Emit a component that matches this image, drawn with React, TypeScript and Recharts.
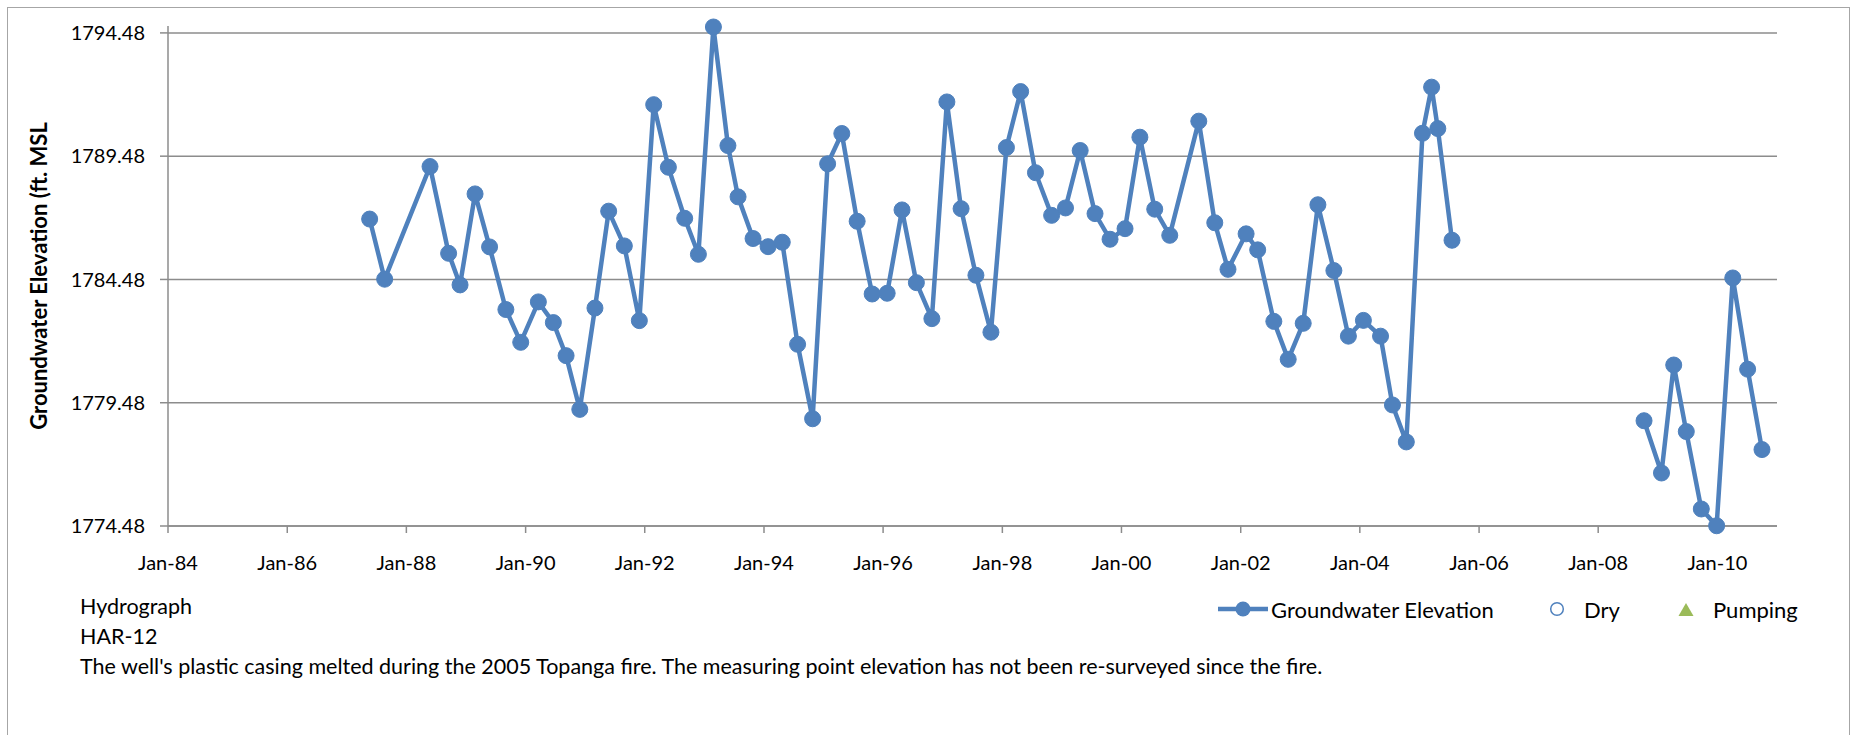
import React from 'react';
import { LineChart, Line, XAxis, YAxis, CartesianGrid, Legend } from 'recharts';

// sample dates and measured elevations (ft MSL); null marks the gap 2005-2008
const sampleDates = [
  '1987-05-21', '1987-08-21', '1988-05-25', '1988-09-16', '1988-11-25', '1989-02-25', '1989-05-25',
  '1989-09-02', '1989-12-02', '1990-03-20', '1990-06-20', '1990-09-06', '1990-11-29', '1991-03-02',
  '1991-05-25', '1991-08-29', '1991-11-29', '1992-02-25', '1992-05-25', '1992-09-02', '1992-11-25',
  '1993-02-25', '1993-05-25', '1993-07-26', '1993-10-26', '1994-01-26', '1994-04-23', '1994-07-26',
  '1994-10-26', '1995-01-26', '1995-04-23', '1995-07-26', '1995-10-26', '1996-01-26', '1996-04-26',
  '1996-07-23', '1996-10-26', '1997-01-26', '1997-04-23', '1997-07-23', '1997-10-23', '1998-01-26',
  '1998-04-23', '1998-07-23', '1998-10-30', '1999-01-23', '1999-04-23', '1999-07-23', '1999-10-23',
  '2000-01-23', '2000-04-23', '2000-07-23', '2000-10-23', '2001-04-19', '2001-07-26', '2001-10-15',
  '2002-02-03', '2002-04-15', '2002-07-23', '2002-10-19', '2003-01-19', '2003-04-19', '2003-07-26',
  '2003-10-23', '2004-01-23', '2004-05-07', '2004-07-19', '2004-10-12', '2005-01-19', '2005-03-16',
  '2005-04-23', '2005-07-19', '2007-01-01', '2008-10-08', '2009-01-23', '2009-04-08', '2009-06-24',
  '2009-09-24', '2009-12-27', '2010-04-05', '2010-07-05', '2010-10-01',
];

const groundwaterElevation: (number | null)[] = [
  1786.93, 1784.49, 1789.06, 1785.54, 1784.26, 1787.95, 1785.8,
  1783.26, 1781.93, 1783.57, 1782.73, 1781.39, 1779.21, 1783.32,
  1787.25, 1785.84, 1782.81, 1791.57, 1789.03, 1786.96, 1785.5,
  1794.72, 1789.91, 1787.83, 1786.14, 1785.81, 1785.99, 1781.85,
  1778.83, 1789.17, 1790.4, 1786.84, 1783.89, 1783.92, 1787.3,
  1784.35, 1782.89, 1791.68, 1787.35, 1784.65, 1782.34, 1789.83,
  1792.1, 1788.81, 1787.08, 1787.38, 1789.71, 1787.15, 1786.11,
  1786.54, 1790.25, 1787.33, 1786.27, 1790.9, 1786.78, 1784.89,
  1786.33, 1785.68, 1782.78, 1781.24, 1782.7, 1787.51, 1784.84,
  1782.18, 1782.82, 1782.18, 1779.39, 1777.89, 1790.41, 1792.28,
  1790.6, 1786.07, null, 1778.75, 1776.63, 1781.01, 1778.31,
  1775.17, 1774.49, 1784.54, 1780.84, 1777.58,
];

// no dry or pumping readings in this record
const dryReadings: (number | null)[] = [];
const pumpingReadings: (number | null)[] = [];

const yearTicks = [1984, 1986, 1988, 1990, 1992, 1994, 1996, 1998, 2000, 2002, 2004, 2006, 2008, 2010];
const elevationTicks = [1774.48, 1779.48, 1784.48, 1789.48, 1794.48];

const noteLines = [
  'Hydrograph',
  'HAR-12',
  "The well's plastic casing melted during the 2005 Topanga fire. The measuring point elevation has not been re-surveyed since the fire.",
];

const BLUE = '#4f81bd';
const GREEN = '#9bbb59';
const GRID = '#8c8c8c';
const FONT = "Lato, 'Open Sans', sans-serif";

const toTime = (d: string) => Date.parse(d + 'T00:00:00Z');

const data = sampleDates.map((d, i) => ({
  t: toTime(d),
  level: groundwaterElevation[i] ?? null,
  dry: dryReadings[i] ?? null,
  pumping: pumpingReadings[i] ?? null,
}));

const xTicks = yearTicks.map((y) => Date.UTC(y, 0, 1));
const xDomain = [Date.UTC(1984, 0, 1), Date.UTC(2011, 0, 1)];
const yDomain = [1774.48, 1794.76];

const fmtDate = (t: number) => 'Jan-' + String(new Date(t).getUTCFullYear()).slice(2);

// legend item left offsets inside the legend box
const legendSlots: Record<string, number> = { level: 0, dry: 331, pumping: 460 };

const legendIcon = (key: string) => {
  if (key === 'level') {
    return (
      <svg width={50} height={20}>
        <line x1={0} y1={10} x2={50} y2={10} stroke={BLUE} strokeWidth={4.5} />
        <circle cx={25} cy={10} r={7.5} fill={BLUE} />
      </svg>
    );
  }
  if (key === 'dry') {
    return (
      <svg width={16} height={20}>
        <circle cx={8} cy={10} r={6.3} fill="#fff" stroke={BLUE} strokeWidth={1.5} />
      </svg>
    );
  }
  return (
    <svg width={16} height={20}>
      <polygon points="0.5,17 8,4 15.5,17" fill={GREEN} />
    </svg>
  );
};

const renderLegend = (props: any) => {
  const items = props.payload || [];
  return (
    <div style={{ position: 'relative', width: 600, height: 30, fontFamily: FONT, fontSize: 22, color: '#000' }}>
      {items.map((entry: any) => {
        const key = String(entry.dataKey);
        return (
          <div
            key={key}
            style={{
              position: 'absolute',
              left: legendSlots[key] ?? 0,
              top: 0,
              height: 30,
              display: 'flex',
              alignItems: 'center',
              gap: key === 'level' ? 3 : 19,
              whiteSpace: 'nowrap',
            }}
          >
            {legendIcon(key)}
            <span>{entry.value}</span>
          </div>
        );
      })}
    </div>
  );
};

const YLabel = (props: any) => {
  const vb = props.viewBox || {};
  const cy = (vb.y ?? 0) + (vb.height ?? 0) / 2;
  return (
    <text
      x={38}
      y={cy}
      transform={`rotate(-90 38 ${cy})`}
      textAnchor="middle"
      dominantBaseline="central"
      fontFamily={FONT}
      fontWeight={700}
      fontSize={22}
      fill="#000"
    >
      Groundwater Elevation (ft. MSL
    </text>
  );
};

// grid only on the labelled elevations (not on the padded domain edge)
const gridRows = (props: any) => {
  const s = props?.yAxis?.scale;
  if (typeof s === 'function') return elevationTicks.map((v) => s(v));
  if (s && typeof s.map === 'function') return elevationTicks.map((v) => s.map(v));
  const off = props?.offset || {};
  const top = off.top ?? 26;
  const h = off.height ?? 500;
  return elevationTicks.map((v) => top + ((yDomain[1] - v) / (yDomain[1] - yDomain[0])) * h);
};

export default function App() {
  return (
    <div style={{ position: 'absolute', left: 0, top: 0, width: 1855, height: 735, background: '#fff', overflow: 'hidden' }}>
      <div
        style={{
          position: 'absolute',
          left: 7,
          top: 7,
          width: 1843,
          height: 760,
          border: '1px solid #a6a6a6',
          boxSizing: 'border-box',
        }}
      />
      <div style={{ position: 'absolute', left: 0, top: 0 }}>
        <LineChart width={1855} height={700} data={data} margin={{ top: 26, right: 78, bottom: 120, left: 0 }}>
          <CartesianGrid
            horizontal
            vertical={false}
            stroke={GRID}
            strokeWidth={1.5}
            horizontalCoordinatesGenerator={gridRows}
          />
          <XAxis
            dataKey="t"
            type="number"
            domain={xDomain}
            ticks={xTicks}
            tickFormatter={fmtDate}
            height={54}
            stroke={GRID}
            strokeWidth={1.5}
            tickSize={7}
            tickMargin={23}
            tick={{ fill: '#000', fontFamily: FONT, fontSize: 20 }}
            allowDataOverflow
          />
          <YAxis
            type="number"
            domain={yDomain}
            ticks={elevationTicks}
            tickFormatter={(v: number) => v.toFixed(2)}
            width={168}
            stroke={GRID}
            strokeWidth={1.5}
            tickSize={8}
            tickMargin={15}
            tick={{ fill: '#000', fontFamily: FONT, fontSize: 20 }}
            label={<YLabel />}
          />
          <Legend
            layout="horizontal"
            verticalAlign="middle"
            align="center"
            content={renderLegend}
            wrapperStyle={{ position: 'absolute', left: 1218, top: 594, width: 600 }}
          />
          <Line
            dataKey="level"
            name="Groundwater Elevation"
            stroke={BLUE}
            strokeWidth={4.5}
            dot={{ r: 8, fill: BLUE, stroke: BLUE, strokeWidth: 1 }}
            activeDot={false}
            connectNulls={false}
            isAnimationActive={false}
          />
          <Line dataKey="dry" name="Dry" stroke={BLUE} dot={false} activeDot={false} isAnimationActive={false} />
          <Line dataKey="pumping" name="Pumping" stroke={GREEN} dot={false} activeDot={false} isAnimationActive={false} />
        </LineChart>
      </div>
      <div
        style={{
          position: 'absolute',
          left: 80,
          top: 591,
          fontFamily: FONT,
          fontSize: 21.5,
          lineHeight: '30px',
          color: '#000',
          whiteSpace: 'nowrap',
        }}
      >
        {noteLines.map((line) => (
          <div key={line}>{line}</div>
        ))}
      </div>
    </div>
  );
}
